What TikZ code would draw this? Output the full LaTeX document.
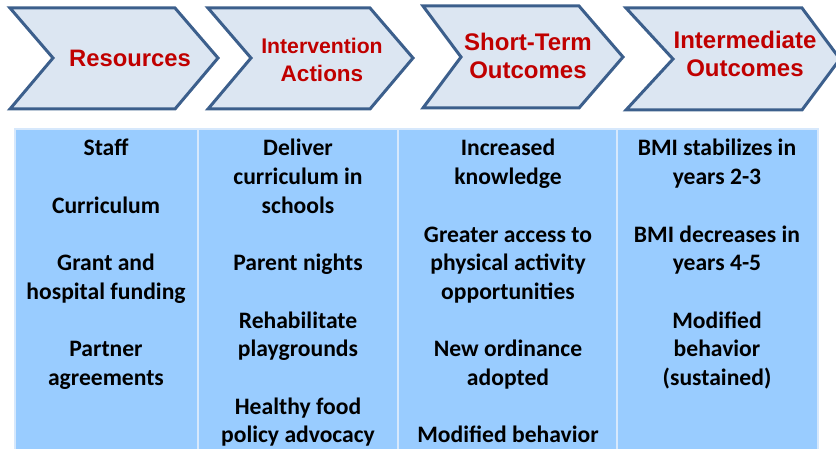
\documentclass[tikz,border=0pt]{standalone}
\usepackage{fontspec}
\setmainfont{Carlito}
\newfontfamily\headfont{Liberation Sans}
\definecolor{chevfill}{HTML}{DCE6F2}
\definecolor{chevline}{HTML}{3C5F8C}
\definecolor{headred}{HTML}{C00000}
\definecolor{cellfill}{HTML}{99CCFF}
\definecolor{cellline}{HTML}{D6E8FC}
\begin{document}
\begin{tikzpicture}[x=1pt,y=-1pt,
  chev/.style={fill=chevfill,draw=chevline,line width=3pt,line join=miter},
  headtext/.style={font=\headfont\bfseries\fontsize{24}{28}\selectfont,text=headred,align=center,inner sep=0pt},
  celltext/.style={font=\bfseries\fontsize{23.6}{28.7}\selectfont,inner sep=0pt,anchor=base},
  cell/.style={fill=cellfill,draw=cellline,line width=1.5pt}]
\useasboundingbox (0,0) rectangle (836,449);
% chevrons
\draw[chev] (10,8) -- (175,8) -- (218,58) -- (175,109) -- (10,109) -- (53,58) -- cycle;
\draw[chev] (208,8) -- (370,8) -- (413,58) -- (370,109) -- (208,109) -- (251,58) -- cycle;
\draw[chev] (423,6) -- (579,6) -- (623,57) -- (579,108) -- (423,108) -- (461,57) -- cycle;
\draw[chev] (626,8) -- (802,8) -- (840,59) -- (802,110) -- (626,110) -- (673,59) -- cycle;
\node[headtext,font=\headfont\bfseries\fontsize{23.8}{27}\selectfont,anchor=base] (h1) at (130,67) {Resources};
\node[headtext,font=\headfont\bfseries\fontsize{21.2}{28}\selectfont,anchor=base] (h2a) at (322,54) {Intervention};
\node[headtext,font=\headfont\bfseries\fontsize{22.5}{28}\selectfont,anchor=base] (h2b) at (322,82) {Actions};
\node[headtext,anchor=base] (h3a) at (528,51) {Short-Term};
\node[headtext,anchor=base] (h3b) at (528,79) {Outcomes};
\node[headtext,anchor=base] (h4a) at (745,49) {Intermediate};
\node[headtext,anchor=base] (h4b) at (745,77) {Outcomes};
% table cells
\draw[cell] (15,129) rectangle (198,460);
\draw[cell] (198,129) rectangle (398,460);
\draw[cell] (398,129) rectangle (617,460);
\draw[cell] (617,129) rectangle (818,460);
% column texts
\node[celltext] (c1) at (106,156) {\parbox[t]{180pt}{\centering Staff\\[28.7pt]Curriculum\\[28.7pt]Grant and\\hospital funding\\[28.7pt]Partner\\agreements}};
\node[celltext] (c2) at (298,156) {\parbox[t]{195pt}{\centering Deliver\\curriculum in\\schools\\[28.7pt]Parent nights\\[28.7pt]Rehabilitate\\playgrounds\\[28.7pt]Healthy food\\policy advocacy}};
\node[celltext] (c3) at (508,156) {\parbox[t]{215pt}{\centering Increased\\knowledge\\[28.7pt]Greater access to\\physical activity\\opportunities\\[28.7pt]New ordinance\\adopted\\[28.7pt]Modified behavior}};
\node[celltext] (c4) at (717,156) {\parbox[t]{198pt}{\centering BMI stabilizes in\\years 2-3\\[28.7pt]BMI decreases in\\years 4-5\\[28.7pt]Modified\\behavior\\(sustained)}};
\end{tikzpicture}
\end{document}
